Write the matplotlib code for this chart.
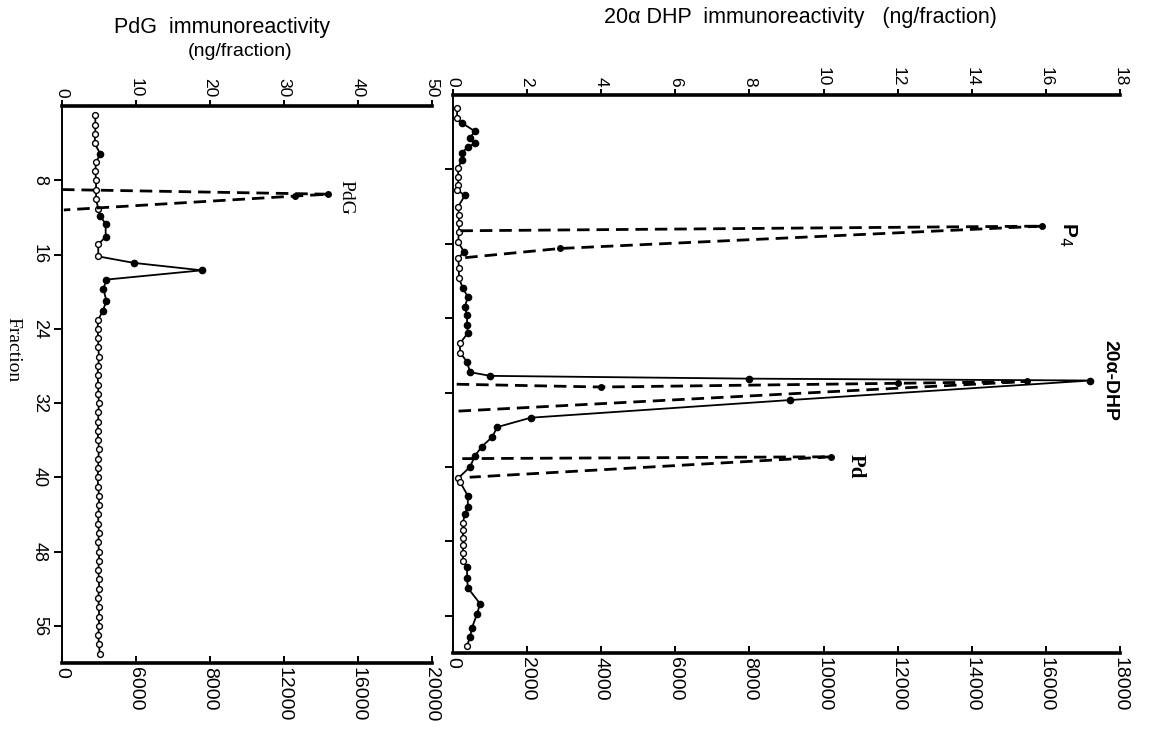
import matplotlib.pyplot as plt

# ---- left panel: PdG ----
pdg_frac = [1, 2, 3, 4, 5.2, 6, 7, 8, 9, 10, 11.1, 11.9, 12.7, 14.1, 14.9, 16.2, 16.9, 17.7, 18.7, 19.7, 21, 22.1,
            23, 24, 25, 26, 27, 28, 29, 30, 31, 32, 33, 34, 35, 36, 37, 38, 39, 40, 41, 42, 43, 44, 45, 46,
            47, 48, 49, 50, 51, 52, 53, 54, 55, 56, 57, 58, 59]
pdg_ng = [4.5, 4.5, 4.5, 4.4, 5.2, 4.6, 4.5, 4.6, 4.6, 4.6, 4.9, 5.2, 5.9, 5.9, 4.9, 4.9, 9.7, 18.9, 6.0, 5.6, 6.0, 5.5,
          4.9, 4.8, 4.9, 4.9, 5.0, 4.9, 4.8, 4.9, 4.9, 5.0, 4.9, 4.9, 4.8, 4.9, 5.0, 4.9, 4.9, 4.8, 4.9, 5.0,
          5.0, 4.9, 4.9, 5.0, 4.9, 5.0, 5.0, 4.9, 5.0, 5.0, 4.9, 5.0, 5.0, 5.0, 4.9, 5.0, 5.1]
pdg_kind = "oooofoooooofffooffffff" + "o" * 37
pdg_std_frac = [9.0, 9.5, 9.7, 11.2]
pdg_std_cpm = [0, 14400, 12600, 100]

# ---- right panel: 20a-DHP ----
dhp_frac = [1.4, 2.5, 3.0, 3.9, 4.6, 5.2, 5.6, 6.2, 7.0, 7.8, 8.8, 9.7, 10.2, 10.8, 12.0, 12.9, 13.8, 14.7, 15.8, 16.9,
            17.5, 18.6, 19.7, 20.8, 21.7, 22.8, 23.7, 24.7, 25.6, 26.7, 27.7, 28.7, 29.8, 30.2, 30.5, 30.7, 32.8, 34.7,
            35.7, 36.8, 37.8, 38.8, 40.0, 41.2, 41.6, 43.1, 44.3, 45.0, 46.0, 46.8, 47.6, 48.4, 49.3, 50.1, 50.8, 51.9,
            53.0, 54.7, 55.8, 57.3, 58.3, 59.2]
dhp_ng = [0.11, 0.11, 0.24, 0.59, 0.46, 0.59, 0.40, 0.24, 0.24, 0.14, 0.14, 0.14, 0.11, 0.32, 0.14, 0.16, 0.16, 0.16,
          0.14, 0.30, 0.14, 0.16, 0.16, 0.27, 0.40, 0.32, 0.38, 0.38, 0.40, 0.19, 0.19, 0.38, 0.46, 1.0, 8.0, 17.2,
          9.1, 2.1, 1.2, 1.05, 0.78, 0.59, 0.46, 0.14, 0.19, 0.40, 0.40, 0.32, 0.27, 0.27, 0.27, 0.27, 0.27, 0.27,
          0.38, 0.38, 0.40, 0.73, 0.65, 0.51, 0.46, 0.38]
dhp_kind = "oofffffffoooofooooofoooffffffooffffffffffffoofffoooooofffffffo"

p4_frac = [14.6, 14.1, 16.5, 17.5]
p4_cpm = [200, 15900, 2900, 300]
dhp_std_frac = [31.1, 31.4, 31.0, 30.8, 34.0]
dhp_std_cpm = [100, 4000, 12000, 15500, 100]
pd_frac = [39.1, 38.9, 41.1]
pd_cpm = [250, 10200, 450]

frac_ticks = [8, 16, 24, 32, 40, 48, 56]
pdg_top_ticks = [0, 10, 20, 30, 40, 50]
pdg_bot_ticks = [0, 4000, 8000, 12000, 16000, 20000]
pdg_bot_labels = ['0', '6000', '8000', '12000', '16000', '20000']
dhp_top_ticks = [0, 2, 4, 6, 8, 10, 12, 14, 16, 18]
dhp_bot_ticks = [0, 2000, 4000, 6000, 8000, 10000, 12000, 14000, 16000, 18000]

plt.rcParams['font.family'] = ['Liberation Sans', 'DejaVu Sans']

W, H = 1154, 744
fig = plt.figure(figsize=(W / 100, H / 100), dpi=100)


def panel(rect, top_lim, top_ticks, bot_lim, bot_ticks, bot_labels, frac_labels):
    ax = fig.add_axes(rect)
    axb = ax.twiny()
    ax.xaxis.tick_top()
    ax.set_xlim(top_lim)
    ax.set_ylim(60, 0)
    axb.set_xlim(bot_lim)
    axb.xaxis.set_ticks_position('bottom')
    for s in ['right', 'bottom']:
        ax.spines[s].set_visible(False)
    for s in ['right', 'top', 'left']:
        axb.spines[s].set_visible(False)
    ax.spines['top'].set_linewidth(2.6)
    ax.spines['left'].set_linewidth(1.4)
    axb.spines['bottom'].set_linewidth(2.6)
    ax.set_xticks(top_ticks)
    ax.set_xticklabels([str(t) for t in top_ticks], rotation=-90, fontsize=12.5)
    ax.tick_params(axis='x', direction='out', length=4, width=1.4, pad=2)
    axb.set_xticks(bot_ticks)
    axb.set_xticklabels(bot_labels, rotation=-90, fontsize=14)
    axb.tick_params(axis='x', direction='in', length=5, width=1.4, pad=3)
    ax.set_yticks(frac_ticks)
    if frac_labels:
        ax.set_yticklabels([str(t) for t in frac_ticks], rotation=-90, fontsize=13, va='center')
    else:
        ax.set_yticklabels([])
    ax.tick_params(axis='y', direction='out', length=6, width=1.4, pad=4)
    return ax, axb


def series(ax, frac, vals, kind):
    ax.plot(vals, frac, color='black', lw=1.3, zorder=2)
    fv = [(v, f) for v, f, k in zip(vals, frac, kind) if k == 'f']
    ov = [(v, f) for v, f, k in zip(vals, frac, kind) if k == 'o']
    ax.plot([p[0] for p in fv], [p[1] for p in fv], 'o', color='black', ms=4.5, zorder=3)
    ax.plot([p[0] for p in ov], [p[1] for p in ov], 'o', mfc='white', mec='black', mew=1.0, ms=4.2, zorder=3)


def standard(ax, frac, cpm):
    ax.plot(cpm, frac, color='black', lw=2.0, linestyle=(0, (4.5, 2.5)), zorder=2)
    ax.plot(cpm[1:-1], frac[1:-1], 'o', color='black', ms=4, zorder=3)


# left panel
axL, axLb = panel([62 / W, 1 - 663 / H, 370 / W, 557 / H], (0, 50), pdg_top_ticks,
                  (0, 20000), pdg_bot_ticks, pdg_bot_labels, True)
series(axL, pdg_frac, pdg_ng, pdg_kind)
standard(axLb, pdg_std_frac, pdg_std_cpm)
i = pdg_std_cpm.index(max(pdg_std_cpm))
axLb.text(pdg_std_cpm[i] + 500, pdg_std_frac[i] + 0.3, 'PdG', rotation=-90, fontsize=14,
          family='Liberation Serif', ha='left', va='center')

# right panel
axR, axRb = panel([453 / W, 1 - 653 / H, 667 / W, 558 / H], (0, 18), dhp_top_ticks,
                  (0, 18000), dhp_bot_ticks, [str(t) for t in dhp_bot_ticks], False)
series(axR, dhp_frac, dhp_ng, dhp_kind)
standard(axRb, p4_frac, p4_cpm)
standard(axRb, dhp_std_frac, dhp_std_cpm)
standard(axRb, pd_frac, pd_cpm)

i = p4_cpm.index(max(p4_cpm))
axRb.text(p4_cpm[i] + 400, p4_frac[i] + 0.9, 'P$_4$', rotation=-90, fontsize=15,
          fontweight='bold', ha='left', va='center')
i = pd_cpm.index(max(pd_cpm))
axRb.text(pd_cpm[i] + 400, pd_frac[i] + 1.0, 'Pd', rotation=-90, fontsize=15,
          fontweight='bold', family='Liberation Serif', ha='left', va='center')
j = dhp_ng.index(max(dhp_ng))
axR.text(dhp_ng[j] + 0.3, dhp_frac[j], '20α-DHP', rotation=-90, fontsize=14,
         fontweight='bold', ha='left', va='center')

# titles / labels
fig.text(222 / W, 1 - 28 / H, 'PdG  immunoreactivity', ha='center', va='center', fontsize=15.5)
fig.text(240 / W, 1 - 51 / H, '(ng/fraction)', ha='center', va='center', fontsize=14)
fig.text(800 / W, 1 - 18 / H, '20α DHP  immunoreactivity   (ng/fraction)', ha='center', va='center',
         fontsize=15.5)
fig.text(13 / W, 1 - 350 / H, 'Fraction', rotation=-90, ha='center', va='center', fontsize=14,
         family='Liberation Serif')

fig.savefig('out.png', dpi=100)
